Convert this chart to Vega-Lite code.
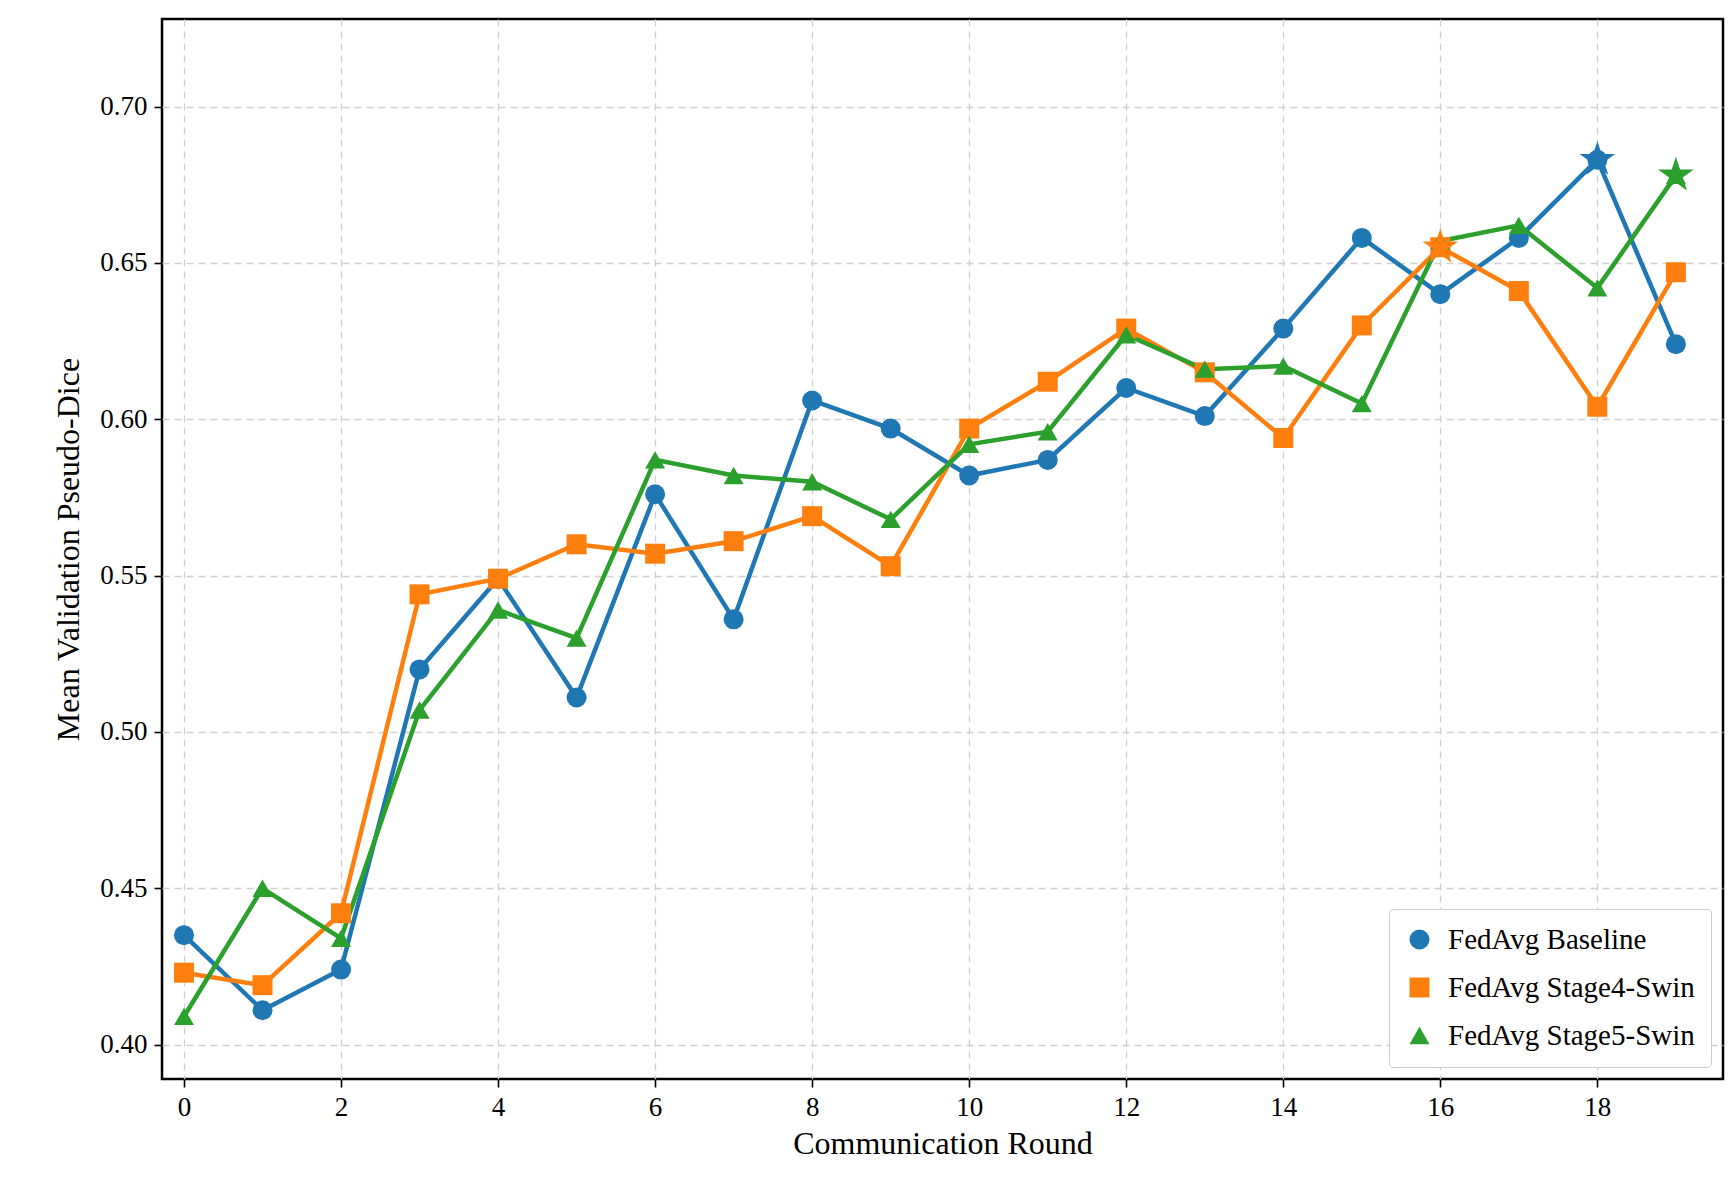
{
"$schema":"https://vega.github.io/schema/vega-lite/v6.json",
"width":1561,"height":1060,
"autosize":{"type":"none"},
"padding":{"left":162,"top":19,"right":6,"bottom":119},
"background":"white",
"config":{"font":"Liberation Serif","view":{"stroke":"black","strokeWidth":2.5},
"axis":{"labelFont":"Liberation Serif","titleFont":"Liberation Serif","labelFontSize":27,"titleFontSize":32,"titleFontWeight":"normal","labelColor":"black","titleColor":"black","gridDash":[7,5],"gridColor":"#d0d0d0","gridWidth":1.3,"domain":false,"tickColor":"black","tickSize":8,"tickWidth":1.6,"labelPadding":7},
"legend":{"labelFont":"Liberation Serif","labelFontSize":29,"labelColor":"black"}},
"data":{"values":[
{"r":0,"s":"FedAvg Baseline","v":0.435},{"r":1,"s":"FedAvg Baseline","v":0.411},{"r":2,"s":"FedAvg Baseline","v":0.424},{"r":3,"s":"FedAvg Baseline","v":0.520},{"r":4,"s":"FedAvg Baseline","v":0.549},{"r":5,"s":"FedAvg Baseline","v":0.511},{"r":6,"s":"FedAvg Baseline","v":0.576},{"r":7,"s":"FedAvg Baseline","v":0.536},{"r":8,"s":"FedAvg Baseline","v":0.606},{"r":9,"s":"FedAvg Baseline","v":0.597},{"r":10,"s":"FedAvg Baseline","v":0.582},{"r":11,"s":"FedAvg Baseline","v":0.587},{"r":12,"s":"FedAvg Baseline","v":0.610},{"r":13,"s":"FedAvg Baseline","v":0.601},{"r":14,"s":"FedAvg Baseline","v":0.629},{"r":15,"s":"FedAvg Baseline","v":0.658},{"r":16,"s":"FedAvg Baseline","v":0.640},{"r":17,"s":"FedAvg Baseline","v":0.658},{"r":18,"s":"FedAvg Baseline","v":0.683,"best":true},{"r":19,"s":"FedAvg Baseline","v":0.624},
{"r":0,"s":"FedAvg Stage4-Swin","v":0.423},{"r":1,"s":"FedAvg Stage4-Swin","v":0.419},{"r":2,"s":"FedAvg Stage4-Swin","v":0.442},{"r":3,"s":"FedAvg Stage4-Swin","v":0.544},{"r":4,"s":"FedAvg Stage4-Swin","v":0.549},{"r":5,"s":"FedAvg Stage4-Swin","v":0.560},{"r":6,"s":"FedAvg Stage4-Swin","v":0.557},{"r":7,"s":"FedAvg Stage4-Swin","v":0.561},{"r":8,"s":"FedAvg Stage4-Swin","v":0.569},{"r":9,"s":"FedAvg Stage4-Swin","v":0.553},{"r":10,"s":"FedAvg Stage4-Swin","v":0.597},{"r":11,"s":"FedAvg Stage4-Swin","v":0.612},{"r":12,"s":"FedAvg Stage4-Swin","v":0.629},{"r":13,"s":"FedAvg Stage4-Swin","v":0.615},{"r":14,"s":"FedAvg Stage4-Swin","v":0.594},{"r":15,"s":"FedAvg Stage4-Swin","v":0.630},{"r":16,"s":"FedAvg Stage4-Swin","v":0.655,"best":true},{"r":17,"s":"FedAvg Stage4-Swin","v":0.641},{"r":18,"s":"FedAvg Stage4-Swin","v":0.604},{"r":19,"s":"FedAvg Stage4-Swin","v":0.647},
{"r":0,"s":"FedAvg Stage5-Swin","v":0.409},{"r":1,"s":"FedAvg Stage5-Swin","v":0.450},{"r":2,"s":"FedAvg Stage5-Swin","v":0.434},{"r":3,"s":"FedAvg Stage5-Swin","v":0.507},{"r":4,"s":"FedAvg Stage5-Swin","v":0.539},{"r":5,"s":"FedAvg Stage5-Swin","v":0.530},{"r":6,"s":"FedAvg Stage5-Swin","v":0.587},{"r":7,"s":"FedAvg Stage5-Swin","v":0.582},{"r":8,"s":"FedAvg Stage5-Swin","v":0.580},{"r":9,"s":"FedAvg Stage5-Swin","v":0.568},{"r":10,"s":"FedAvg Stage5-Swin","v":0.592},{"r":11,"s":"FedAvg Stage5-Swin","v":0.596},{"r":12,"s":"FedAvg Stage5-Swin","v":0.627},{"r":13,"s":"FedAvg Stage5-Swin","v":0.616},{"r":14,"s":"FedAvg Stage5-Swin","v":0.617},{"r":15,"s":"FedAvg Stage5-Swin","v":0.605},{"r":16,"s":"FedAvg Stage5-Swin","v":0.657},{"r":17,"s":"FedAvg Stage5-Swin","v":0.662},{"r":18,"s":"FedAvg Stage5-Swin","v":0.642},{"r":19,"s":"FedAvg Stage5-Swin","v":0.678,"best":true}
]},
"encoding":{
"x":{"field":"r","type":"quantitative","scale":{"domain":[-0.28,19.6],"nice":false,"zero":false},"axis":{"values":[0,2,4,6,8,10,12,14,16,18],"title":"Communication Round","titlePadding":8}},
"y":{"field":"v","type":"quantitative","scale":{"domain":[0.389,0.728],"nice":false,"zero":false},"axis":{"values":[0.40,0.45,0.50,0.55,0.60,0.65,0.70],"format":".2f","title":"Mean Validation Pseudo-Dice","titlePadding":14}},
"color":{"field":"s","type":"nominal","scale":{"domain":["FedAvg Baseline","FedAvg Stage4-Swin","FedAvg Stage5-Swin"],"range":["#1f77b4","#ff7f0e","#2ca02c"]},
 "legend":{"title":null,"orient":"bottom-right","offset":12,"symbolSize":400,"symbolStrokeWidth":0,"rowPadding":18,"padding":16,"strokeColor":"#cccccc","fillColor":"white","cornerRadius":4,"labelLimit":400,"labelOffset":14}}
},
"layer":[
{"mark":{"type":"line","strokeWidth":4.5}},
{"mark":{"type":"point","filled":true,"opacity":1,"size":400},
 "encoding":{"shape":{"field":"s","type":"nominal","scale":{"domain":["FedAvg Baseline","FedAvg Stage4-Swin","FedAvg Stage5-Swin"],"range":["circle","square","triangle-up"]},
 "legend":{"title":null,"orient":"bottom-right","offset":12,"symbolSize":400,"symbolStrokeWidth":0,"rowPadding":18,"padding":16,"strokeColor":"#cccccc","fillColor":"white","cornerRadius":4,"labelLimit":400,"labelOffset":14}}}},
{"transform":[{"filter":"datum.best"}],"mark":{"type":"point","shape":"M0,-1L0.2245,-0.309L0.951,-0.309L0.363,0.118L0.588,0.809L0,0.382L-0.588,0.809L-0.363,0.118L-0.951,-0.309L-0.2245,-0.309Z","filled":true,"opacity":1,"size":1400}}
]
}
